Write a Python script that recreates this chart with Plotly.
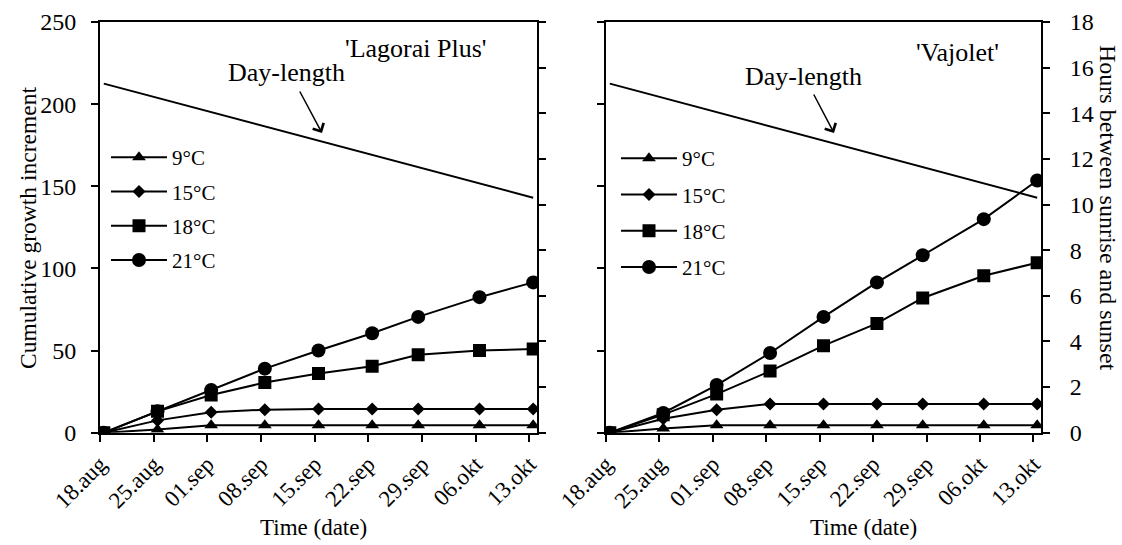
import pandas as pd
import plotly.graph_objects as go

W, H = 1122, 545

# Sampling dates (growth measured once a week)
sample_dates = ["2013-08-18", "2013-08-25", "2013-09-01", "2013-09-08", "2013-09-15",
                "2013-09-22", "2013-09-28", "2013-10-06", "2013-10-13"]
tick_dates = ["2013-08-18", "2013-08-25", "2013-09-01", "2013-09-08", "2013-09-15",
              "2013-09-22", "2013-09-29", "2013-10-06", "2013-10-13"]
tick_labels = ["18.aug", "25.aug", "01.sep", "08.sep", "15.sep",
               "22.sep", "29.sep", "06.okt", "13.okt"]

temperatures = ["9°C", "15°C", "18°C", "21°C"]
symbols = ["triangle-up", "diamond", "square", "circle"]
symbol_sizes = [12, 10, 13, 14]

# Cumulative growth increment, 'Lagorai Plus'
lagorai_9 = [0, 2, 4.5, 4.5, 4.5, 4.5, 4.5, 4.5, 4.5]
lagorai_15 = [0, 7.5, 12.5, 14, 14.5, 14.5, 14.5, 14.5, 14.5]
lagorai_18 = [0, 13, 23, 30.5, 36, 40.5, 47.5, 50, 51]
lagorai_21 = [0, 13, 26, 39, 50, 60.5, 70.5, 82.5, 91.5]

# Cumulative growth increment, 'Vajolet'
vajolet_9 = [0, 2.5, 4.5, 4.5, 4.5, 4.5, 4.5, 4.5, 4.5]
vajolet_15 = [0, 8.5, 14, 17.5, 17.5, 17.5, 17.5, 17.5, 17.5]
vajolet_18 = [0, 11, 23.5, 37.5, 53, 66.5, 82, 95.5, 103.5]
vajolet_21 = [0, 12, 29, 48.5, 70.5, 91.5, 108, 130, 153.5]

# Hours between sunrise and sunset
daylength_dates = ["2013-08-18", "2013-10-13"]
daylength_hours = [15.3, 10.3]

FONT = "Liberation Serif"


def px(x):
    return x / W


def py(y):
    return 1 - y / H


# dates are drawn in the middle of their day
def day_centre(dates):
    return pd.to_datetime(dates) + pd.Timedelta(hours=12)


x_samples = day_centre(sample_dates)
x_daylength = day_centre(daylength_dates)

fig = go.Figure()

panels = [
    ("x", "y", "y2", "legend", [lagorai_9, lagorai_15, lagorai_18, lagorai_21]),
    ("x2", "y3", "y4", "legend2", [vajolet_9, vajolet_15, vajolet_18, vajolet_21]),
]

for xa, ya, ya_hours, leg, series in panels:
    fig.add_trace(go.Scatter(
        x=x_daylength, y=daylength_hours, xaxis=xa, yaxis=ya_hours,
        mode="lines", line=dict(color="black", width=2), showlegend=False,
        hoverinfo="skip"))
    for name, values, sym, size in zip(temperatures, series, symbols, symbol_sizes):
        fig.add_trace(go.Scatter(
            x=x_samples, y=values, xaxis=xa, yaxis=ya, name=name,
            mode="lines+markers", legend=leg, legendgroup=leg + name,
            line=dict(color="black", width=2),
            marker=dict(symbol=sym, size=size, color="black")))

L_DOM = [px(100), px(537)]
R_DOM = [px(606), px(1041)]
Y_DOM = [py(432.7), py(22)]

common_line = dict(showline=True, linecolor="black", linewidth=2, showgrid=False,
                   zeroline=False, ticks="outside", ticklen=7, tickwidth=2,
                   tickcolor="black", automargin=False)
x_common = dict(common_line, type="date", range=["2013-08-18", "2013-10-14"],
                tickvals=tick_dates, ticktext=tick_labels, tickangle=-45,
                mirror=True, tickfont=dict(family=FONT, size=23, color="black"))
growth_axis = dict(common_line, range=[0, 250], dtick=50,
                   tickfont=dict(family=FONT, size=24, color="black"),
                   ticklabelstandoff=10)
hours_axis = dict(common_line, range=[0, 18], dtick=2, side="right",
                  tickfont=dict(family=FONT, size=24, color="black"),
                  ticklabelstandoff=15)

legend_common = dict(xanchor="left", yanchor="top", bgcolor="rgba(0,0,0,0)",
                     font=dict(family=FONT, size=21, color="black"),
                     itemwidth=56, traceorder="grouped")

fig.update_layout(
    width=W, height=H, autosize=False,
    margin=dict(l=0, r=0, t=0, b=0),
    paper_bgcolor="white", plot_bgcolor="white",
    font=dict(family=FONT, color="black"),
    xaxis=dict(x_common, domain=L_DOM, anchor="y"),
    yaxis=dict(growth_axis, domain=Y_DOM, anchor="x"),
    yaxis2=dict(hours_axis, overlaying="y", anchor="x", showticklabels=False),
    xaxis2=dict(x_common, domain=R_DOM, anchor="y3"),
    yaxis3=dict(growth_axis, domain=Y_DOM, anchor="x2", showticklabels=False),
    yaxis4=dict(hours_axis, overlaying="y3", anchor="x2"),
    legend=dict(legend_common, x=px(106), y=py(137), tracegroupgap=4),
    legend2=dict(legend_common, x=px(616), y=py(138), tracegroupgap=6),
)

annotations = [
    dict(text="Cumulative growth increment", x=px(28), y=py(228), textangle=-90,
         font=dict(size=23.5)),
    dict(text="Hours between sunrise and sunset", x=px(1108), y=py(208), textangle=90,
         font=dict(size=24)),
    dict(text="Time (date)", x=px(313), y=py(527), font=dict(size=23)),
    dict(text="Time (date)", x=px(863), y=py(527), font=dict(size=23)),
    dict(text="'Lagorai Plus'", x=px(416), y=py(49), font=dict(size=26)),
    dict(text="'Vajolet'", x=px(957), y=py(53), font=dict(size=26)),
    dict(text="Day-length", x=px(286), y=py(72), font=dict(size=26)),
    dict(text="Day-length", x=px(803), y=py(77), font=dict(size=26)),
]
for a in annotations:
    a.update(xref="paper", yref="paper", showarrow=False,
             xanchor="center", yanchor="middle")
    a["font"].update(family=FONT, color="black")

arrows = [
    dict(x=px(322), y=py(133), ax=-23, ay=-43),
    dict(x=px(834), y=py(133), ax=-21, ay=-40),
]
for a in arrows:
    a.update(xref="paper", yref="paper", axref="pixel", ayref="pixel", text="",
             showarrow=True, arrowhead=4, arrowsize=1.6, arrowwidth=1.5,
             arrowcolor="black", standoff=0, startstandoff=0)

fig.update_layout(annotations=annotations + arrows)

fig.write_html("out.html")
